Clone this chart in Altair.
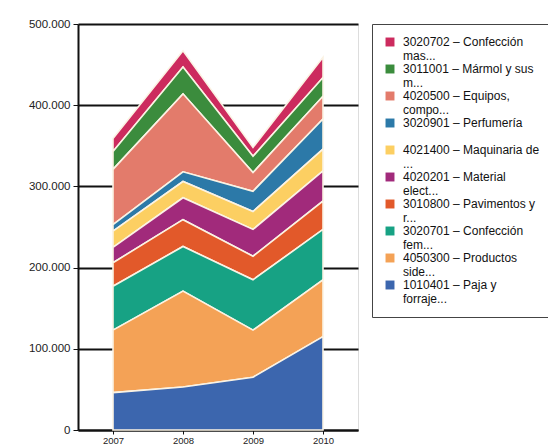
import altair as alt
import pandas as pd

years = ["2007", "2008", "2009", "2010"]

# legend order (top of stack first)
categories = [
    "3020702 – Confección|mas...",
    "3011001 – Mármol y sus|m...",
    "4020500 – Equipos,|compo...",
    "3020901 – Perfumería| ",
    "4021400 – Maquinaria de|...",
    "4020201 – Material|elect...",
    "3010800 – Pavimentos y|r...",
    "3020701 – Confección|fem...",
    "4050300 – Productos|side...",
    "1010401 – Paja y|forraje...",
]

colors = [
    "#cc2b5e", "#3b8c3d", "#e37b6b", "#2c79a8", "#fccf62",
    "#a12a7b", "#e2592a", "#17a284", "#f4a256", "#3c66ae",
]

# values per category for 2007..2010 (same order as categories)
v_conf_mas = [16000, 20000, 11000, 25000]
v_marmol = [22000, 33000, 20000, 23000]
v_equipos = [68000, 96000, 23000, 28000]
v_perfum = [8000, 12000, 25000, 37000]
v_maquin = [20000, 20000, 22000, 27000]
v_material = [19000, 27000, 33000, 37000]
v_pavim = [29000, 33000, 29000, 35000]
v_conf_fem = [54000, 55000, 62000, 62000]
v_productos = [77000, 118000, 58000, 70000]
v_paja = [46000, 53000, 65000, 115000]

series = [v_conf_mas, v_marmol, v_equipos, v_perfum, v_maquin,
          v_material, v_pavim, v_conf_fem, v_productos, v_paja]

rows = []
n = len(categories)
for i, (cat, vals) in enumerate(zip(categories, series)):
    for y, v in zip(years, vals):
        rows.append({"year": y, "cat": cat, "value": v, "stackorder": n - i})
df = pd.DataFrame(rows)

FONT = "Liberation Sans"

chart = alt.Chart(df).mark_area(
    stroke="#fbf3e4", strokeWidth=1.6
).encode(
    x=alt.X("year:O", title=None, scale=alt.Scale(padding=0.5),
            axis=alt.Axis(labelAngle=0, labelFontSize=9.5, labelColor="#222",
                          domainColor="#111", domainWidth=2, tickColor="#111",
                          tickSize=4, labelPadding=1)),
    y=alt.Y("value:Q", stack="zero", title=None,
            scale=alt.Scale(domain=[0, 500000]),
            axis=alt.Axis(values=[0, 100000, 200000, 300000, 400000, 500000],
                          labelExpr="datum.value == 0 ? '0' : format(datum.value / 1000, 'd') + '.000'",
                          labelFontSize=11.5, labelColor="#222",
                          grid=True, gridColor="#111", gridWidth=2,
                          domainColor="#111", domainWidth=2,
                          tickColor="#111", tickSize=5, labelPadding=3)),
    color=alt.Color("cat:N", title=None,
                    scale=alt.Scale(domain=categories, range=colors),
                    legend=alt.Legend(
                        orient="right", offset=14, padding=12,
                        strokeColor="#444", fillColor="white",
                        symbolType="square", symbolSize=80,
                        symbolStrokeWidth=0,
                        labelFontSize=12, labelColor="#111",
                        labelLimit=150, labelOffset=7,
                        rowPadding=1,
                        labelExpr="split(datum.label, '|')",
                    )),
    order=alt.Order("stackorder:Q"),
).properties(
    width=280,
    height=406,
    padding={"left": 70, "top": 16, "right": 190, "bottom": 18},
    autosize=alt.AutoSizeParams(type="none"),
).configure_view(
    stroke="#111", strokeWidth=1.5
).configure(
    font=FONT
)

chart.save("out.html", embed_options={"renderer": "svg", "actions": False})
